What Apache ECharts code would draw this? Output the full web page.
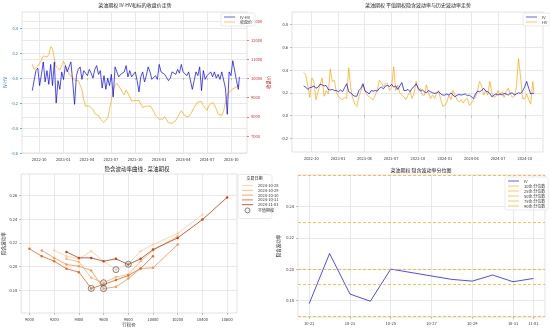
<!DOCTYPE html>
<html><head><meta charset="utf-8">
<script src="https://cdn.jsdelivr.net/npm/echarts@6/dist/echarts.min.js"></script>
<style>html,body{margin:0;padding:0;background:#fff}#c{width:550px;height:329px}</style>
</head><body><div id="c"></div>
<script>
const dates = [
'2022-09-05','2022-09-12','2022-09-19','2022-09-26','2022-10-03','2022-10-10','2022-10-17','2022-10-24','2022-10-31','2022-11-07',
'2022-11-14','2022-11-21','2022-11-28','2022-12-05','2022-12-12','2022-12-19','2022-12-26','2023-01-02','2023-01-09','2023-01-16',
'2023-01-23','2023-01-30','2023-02-06','2023-02-13','2023-02-20','2023-02-27','2023-03-06','2023-03-13','2023-03-20','2023-03-27',
'2023-04-03','2023-04-10','2023-04-17','2023-04-24','2023-05-01','2023-05-08','2023-05-15','2023-05-22','2023-05-29','2023-06-05',
'2023-06-12','2023-06-19','2023-06-26','2023-07-03','2023-07-10','2023-07-17','2023-07-24','2023-07-31','2023-08-07','2023-08-14',
'2023-08-21','2023-08-28','2023-09-04','2023-09-11','2023-09-18','2023-09-25','2023-10-02','2023-10-09','2023-10-16','2023-10-23',
'2023-10-30','2023-11-06','2023-11-13','2023-11-20','2023-11-27','2023-12-04','2023-12-11','2023-12-18','2023-12-25','2024-01-01',
'2024-01-08','2024-01-15','2024-01-22','2024-01-29','2024-02-05','2024-02-12','2024-02-19','2024-02-26','2024-03-04','2024-03-11',
'2024-03-18','2024-03-25','2024-04-01','2024-04-08','2024-04-15','2024-04-22','2024-04-29','2024-05-06','2024-05-13','2024-05-20',
'2024-05-27','2024-06-03','2024-06-10','2024-06-17','2024-06-24','2024-07-01','2024-07-08','2024-07-15','2024-07-22','2024-07-29',
'2024-08-05','2024-08-12','2024-08-19','2024-08-26','2024-09-02','2024-09-09','2024-09-16','2024-09-23','2024-09-30','2024-10-07',
'2024-10-14','2024-10-21','2024-10-28','2024-11-01'];
const ivhv = [
-0.10,-0.09,0.06,0.08,-0.06,0.03,0.13,-0.03,0.06,-0.05,
0.11,-0.06,0.13,-0.20,-0.02,-0.09,0.05,-0.01,0.10,0.05,
0.09,0.13,-0.03,-0.21,0.02,0.07,0.09,-0.01,0.06,0.04,
0.02,0.07,0.04,0.00,0.07,0.10,0.03,0.06,-0.08,0.02,
-0.09,0.00,-0.06,0.03,-0.15,0.09,0.05,0.01,0.03,0.02,
0.05,0.10,0.01,0.06,0.01,0.02,0.05,-0.02,-0.11,0.01,
0.05,-0.03,0.02,0.09,0.05,-0.01,-0.02,0.02,-0.01,0.11,
0.05,0.06,0.03,0.02,-0.02,0.00,0.05,0.06,0.03,0.07,
0.04,0.11,0.05,0.06,0.02,0.05,0.05,-0.09,-0.02,0.05,
0.02,0.09,-0.10,0.06,-0.01,0.02,0.02,0.05,0.01,0.05,
0.00,0.03,-0.01,0.05,0.06,-0.08,-0.29,0.05,0.02,0.14,
0.13,-0.02,-0.09,0.01];
const closePrice = [
10740,10480,10440,10650,10790,10960,11180,11220,11120,11250,
11660,11550,11050,10600,10600,10440,10380,10900,10900,10500,
10220,10220,10050,9910,9910,9900,9820,9430,8880,8550,
8500,8580,8560,8380,8180,8160,8070,7890,7800,7700,
7650,7950,8400,8850,9400,9630,9740,9650,9460,9280,
9150,9400,9350,9050,8820,8840,8860,8780,8860,8670,
8490,8440,8560,8580,8570,8450,8280,8080,7980,7890,
7960,7880,8000,7900,7690,7650,7660,7720,7810,7980,
8170,8320,8250,8050,8110,8000,8100,8300,8500,8600,
8780,8860,8800,8580,8480,8330,8600,8550,8760,8620,
8420,8150,8070,8080,8300,8780,9150,9280,9380,9460,
9480,9560,9600,9650];
const iv = [
0.26,0.25,0.23,0.245,0.25,0.26,0.24,0.25,0.275,0.27,
0.26,0.265,0.23,0.225,0.23,0.22,0.22,0.21,0.225,0.21,
0.245,0.28,0.21,0.20,0.18,0.17,0.17,0.22,0.24,0.28,
0.215,0.205,0.19,0.22,0.215,0.22,0.215,0.24,0.25,0.235,
0.26,0.265,0.255,0.275,0.25,0.26,0.23,0.26,0.29,0.22,
0.22,0.23,0.21,0.24,0.255,0.28,0.24,0.215,0.225,0.21,
0.20,0.22,0.21,0.20,0.195,0.20,0.21,0.19,0.18,0.18,
0.19,0.18,0.20,0.18,0.165,0.18,0.185,0.18,0.185,0.19,
0.175,0.18,0.165,0.15,0.19,0.215,0.21,0.22,0.24,0.215,
0.21,0.195,0.165,0.18,0.19,0.18,0.19,0.18,0.195,0.19,
0.18,0.195,0.20,0.18,0.19,0.20,0.195,0.215,0.25,0.30,
0.24,0.19,0.195,0.195];
const hv = [
0.38,0.36,0.26,0.16,0.33,0.30,0.14,0.21,0.27,0.33,
0.17,0.22,0.19,0.41,0.30,0.31,0.20,0.17,0.15,0.14,
0.16,0.15,0.42,0.25,0.15,0.10,0.08,0.165,0.22,0.27,
0.22,0.18,0.165,0.15,0.14,0.18,0.23,0.31,0.29,0.25,
0.28,0.28,0.22,0.25,0.43,0.22,0.27,0.20,0.18,0.165,
0.14,0.18,0.21,0.15,0.20,0.30,0.22,0.24,0.18,0.18,
0.27,0.20,0.15,0.18,0.15,0.20,0.22,0.14,0.08,0.09,
0.12,0.18,0.14,0.22,0.18,0.14,0.12,0.14,0.11,0.14,
0.15,0.09,0.11,0.14,0.16,0.22,0.30,0.26,0.18,0.22,
0.18,0.30,0.20,0.16,0.17,0.22,0.18,0.21,0.16,0.21,
0.24,0.19,0.16,0.17,0.25,0.50,0.35,0.15,0.15,0.19,
0.14,0.10,0.30,0.20];
const quarterTicks = ['2022-10-01','2023-01-01','2023-04-01','2023-07-01','2023-10-01','2024-01-01','2024-04-01','2024-07-01','2024-10-01'];
const ivhvTicks = [-0.6,-0.4,-0.2,0.0,0.2,0.4];
const closeTicks = [7000,8000,9000,10000,11000,12000,13000];
const ivTicks = [-0.2,0.0,0.2,0.4,0.6,0.8];

const smileDates = ['2024-10-28','2024-10-29','2024-10-30','2024-10-31','2024-11-01'];
const smileStrikes = [
[9200,9300,9400,9500,9600,9700,9800,9900,10000,10200,10400],
[9300,9400,9500,9600,9700,9800,9900,10000,10200],
[9100,9200,9300,9400,9500,9600,9700,9800,9900,10000,10200],
[9000,9100,9200,9300,9400,9500,9600,9700,9800,9900,10000],
[9300,9400,9500,9600,9700,9800,9900,10000,10200,10400,10600]];
const smileIV = [
[0.2136,0.2088,0.2066,0.2130,0.2046,0.1975,0.2024,0.2130,0.2186,0.2280,0.2438],
[0.2066,0.2040,0.1906,0.1865,0.1912,0.1934,0.2046,0.2136,0.2256],
[0.2136,0.2074,0.2018,0.2004,0.1968,0.1815,0.1830,0.1900,0.1985,0.1990,0.2186],
[0.2150,0.2088,0.2046,0.1982,0.1954,0.1817,0.1850,0.1887,0.1926,0.1985,0.2088],
[0.2124,0.2074,0.2074,0.2046,0.2066,0.2018,0.2066,0.2144,0.2242,0.2396,0.2583]];
const atmStrike = [9700,9600,9600,9500,9800];
const atmIV = [0.1975,0.1865,0.1815,0.1817,0.2020];
const strikeTicks = [9000,9200,9400,9600,9800,10000,10200,10400,10600];
const smileTicks = [0.18,0.20,0.22,0.24,0.26];

const recentDates = ['2024-10-21','2024-10-22','2024-10-23','2024-10-24','2024-10-25','2024-10-28','2024-10-29','2024-10-30','2024-10-31','2024-11-01'];
const recentIV = [0.1779,0.2100,0.1840,0.1794,0.2000,0.1934,0.1923,0.1962,0.1919,0.1940];
const quantileNames = ['10th 分位数','25th 分位数','50th 分位数','75th 分位数','90th 分位数'];
const quantileValues = [0.1732,0.1854,0.2036,0.2267,0.2560];
const recentTicks = ['2024-10-21','2024-10-23','2024-10-25','2024-10-27','2024-10-29','2024-10-31','2024-11-01'];
const recentYTicks = [0.18,0.20,0.22,0.24];

const F = 'Noto Sans CJK SC';
const P = s => +echarts.number.parseDate(s);
const pad = n => (n < 10 ? '0' : '') + n;
const fmtYM = v => { const d = new Date(v); return d.getFullYear() + '-' + pad(d.getMonth() + 1); };
const fmtMD = v => { const d = new Date(v); return pad(d.getMonth() + 1) + '-' + pad(d.getDate()); };
const BLUE = 'rgba(0,0,255,0.7)', ORANGE = 'rgba(255,165,0,0.7)';
const GRID_LINE = {show:true, lineStyle:{color:'#e3e3e3', width:0.8}};
const smileColors = ['#fdd0a2','#fdb679','#fc9550','#ee6a22','#c2451a'];

function tAxis(gi, min, max, ticks, fmt) {
  const cv = ticks.map(P);
  return {type:'value', gridIndex:gi, min:P(min), max:P(max), scale:true,
    axisLine:{show:false},
    axisTick:{show:true, length:2, lineStyle:{color:'#999', width:0.6}, customValues:cv},
    axisLabel:{customValues:cv, formatter:fmt, fontSize:4, color:'#333', margin:4, fontFamily:F},
    splitLine:GRID_LINE};
}
function vAxis(gi, min, max, ticks, dec, extra) {
  return Object.assign({type:'value', gridIndex:gi, min:min, max:max, scale:true,
    axisLine:{show:false},
    axisTick:{show:true, length:2, lineStyle:{color:'#999', width:0.6}, customValues:ticks},
    axisLabel:{customValues:ticks, formatter:v=>v.toFixed(dec), fontSize:4, color:'#333', margin:4, fontFamily:F},
    splitLine:GRID_LINE}, extra||{});
}
const lineIcon = 'path://M0,0H20V1.6H0Z';

const chart = echarts.init(document.getElementById('c'), null, {renderer:'canvas'});
const series = [
  {name:'IV-HV', type:'line', xAxisIndex:0, yAxisIndex:0, data:dates.map((d,i)=>[P(d), ivhv[i]]), symbol:'none', lineStyle:{color:BLUE, width:1}, itemStyle:{color:BLUE}, z:3},
  {name:'收盘价', type:'line', xAxisIndex:0, yAxisIndex:1, data:dates.map((d,i)=>[P(d), closePrice[i]]), symbol:'none', lineStyle:{color:ORANGE, width:1}, itemStyle:{color:ORANGE}, z:2},
  {name:'IV', type:'line', xAxisIndex:1, yAxisIndex:2, data:dates.map((d,i)=>[P(d), iv[i]]), symbol:'none', lineStyle:{color:BLUE, width:1}, itemStyle:{color:BLUE}, z:3},
  {name:'HV', type:'line', xAxisIndex:1, yAxisIndex:2, data:dates.map((d,i)=>[P(d), hv[i]]), symbol:'none', lineStyle:{color:ORANGE, width:1}, itemStyle:{color:ORANGE}, z:2}
];
smileDates.forEach((d,i)=>{
  series.push({name:d, type:'line', xAxisIndex:2, yAxisIndex:3,
    data:smileStrikes[i].map((s,j)=>[s, smileIV[i][j]]),
    symbol:'circle', symbolSize:2.5, showSymbol:true,
    lineStyle:{color:smileColors[i], width:1, opacity:0.85}, itemStyle:{color:smileColors[i]}});
});
series.push({name:'平值期权', type:'scatter', xAxisIndex:2, yAxisIndex:3,
  data:atmStrike.map((s,i)=>[s, atmIV[i]]), symbol:'circle', symbolSize:6,
  itemStyle:{color:'rgba(200,200,200,0.25)', borderColor:'#444', borderWidth:0.8}, z:5});
series.push({name:'IV', type:'line', xAxisIndex:3, yAxisIndex:4, data:recentDates.map((d,i)=>[P(d), recentIV[i]]),
  symbol:'none', lineStyle:{color:BLUE, width:1}, itemStyle:{color:BLUE}, z:4});
quantileNames.forEach((n,i)=>{
  series.push({name:n, type:'line', xAxisIndex:3, yAxisIndex:4, data:[], symbol:'none',
    lineStyle:{color:ORANGE, width:1, type:'dashed'}, itemStyle:{color:ORANGE},
    markLine:{silent:true, symbol:['none','none'], label:{show:false},
      lineStyle:{color:ORANGE, width:1, type:[3,2]}, data:[{yAxis:quantileValues[i]}]}});
});

const legendBase = {orient:'vertical', itemWidth:11, itemHeight:5, itemGap:1, padding:[2,3,2,3],
  textStyle:{fontSize:4, fontFamily:F, color:'#333'}, backgroundColor:'rgba(255,255,255,0.85)',
  borderColor:'#ddd', borderWidth:0.6, borderRadius:2, selectedMode:false, icon:lineIcon};
const T = (text, x, y, size) => ({text:text, left:x, top:y, textAlign:'center', padding:0,
  textStyle:{fontSize:size, fontWeight:'normal', color:'#222', fontFamily:F}});

chart.setOption({
  animation:false,
  backgroundColor:'#fff',
  textStyle:{fontFamily:F},
  title:[
    T('菜油期权 IV-HV和标的收盘价走势', 135, 3, 5),
    T('菜油期权 平值期权隐含波动率与历史波动率走势', 418, 3, 5),
    T('隐含波动率曲线 - 菜油期权', 137, 166.5, 5.5),
    T('菜油期权 隐含波动率分位图', 421, 168, 5),
    Object.assign(T('交易日期', 254.5, 176.5, 4), {z:10})
  ],
  grid:[
    {left:22, right:303, top:12, bottom:176, show:true, borderColor:'#d0d0d0', borderWidth:0.6},
    {left:292, right:7, top:12, bottom:177, show:true, borderColor:'#d0d0d0', borderWidth:0.6},
    {left:20, right:313, top:174, bottom:16, show:true, borderColor:'#d0d0d0', borderWidth:0.6},
    {left:298, right:5, top:175, bottom:12, show:true, borderColor:'#d0d0d0', borderWidth:0.6}
  ],
  xAxis:[
    tAxis(0, '2022-07-28', '2024-11-30', quarterTicks, fmtYM),
    tAxis(1, '2022-07-27', '2024-12-02', quarterTicks, fmtYM),
    vAxis(2, 8933, 10680, strikeTicks, 0, {name:'行权价', nameLocation:'middle', nameGap:8, nameTextStyle:{fontSize:4.5, color:'#333', fontFamily:F}}),
    tAxis(3, '2024-10-20 10:48', '2024-11-01 13:40', recentTicks, fmtMD)
  ],
  yAxis:[
    vAxis(0, -0.6, 0.53, ivhvTicks, 1, {name:'IV-HV', nameLocation:'middle', nameGap:14, nameRotate:90,
      nameTextStyle:{fontSize:4.5, color:'#1f77b4', fontFamily:F},
      axisLabel:{customValues:ivhvTicks, formatter:v=>v.toFixed(1), fontSize:4, color:'#1f77b4', margin:4, fontFamily:F},
      axisTick:{show:true, length:2, lineStyle:{color:'#1f77b4', width:0.6}, customValues:ivhvTicks}}),
    vAxis(0, 6115, 13470, closeTicks, 0, {position:'right', name:'收盘价', nameLocation:'middle', nameGap:17, nameRotate:90,
      nameTextStyle:{fontSize:4.5, color:'#d62728', fontFamily:F},
      axisLabel:{customValues:closeTicks, formatter:v=>String(v), fontSize:4, color:'#d62728', margin:4, fontFamily:F},
      axisTick:{show:true, length:2, lineStyle:{color:'#d62728', width:0.6}, customValues:closeTicks}}),
    vAxis(1, -0.32, 0.91, ivTicks, 1),
    vAxis(2, 0.161, 0.278, smileTicks, 2, {name:'隐含波动率', nameLocation:'middle', nameGap:14, nameRotate:90, nameTextStyle:{fontSize:4.5, color:'#333', fontFamily:F}}),
    vAxis(3, 0.1693, 0.2603, recentYTicks, 2, {name:'隐含波动率', nameLocation:'middle', nameGap:17, nameRotate:90, nameTextStyle:{fontSize:4.5, color:'#333', fontFamily:F}})
  ],
  legend:[
    Object.assign({}, legendBase, {left:221, top:13, data:['IV-HV','收盘价']}),
    Object.assign({}, legendBase, {left:523, top:13, data:['IV','HV']}),
    Object.assign({}, legendBase, {left:239, top:181.5, backgroundColor:'transparent', borderWidth:0, itemGap:0.8,
      data:smileDates.map(d=>({name:d})).concat([{name:'平值期权', icon:'circle', itemStyle:{color:'rgba(200,200,200,0.25)', borderColor:'#444', borderWidth:0.8}}])}),
    Object.assign({}, legendBase, {left:505, top:177, data:['IV'].concat(quantileNames)})
  ],
  graphic:[
    {type:'rect', shape:{x:238, y:174.5, width:34, height:44, r:2}, style:{fill:'#fff', stroke:'#ddd', lineWidth:0.6}, z:0}
  ],
  series:series
});
</script></body></html>
